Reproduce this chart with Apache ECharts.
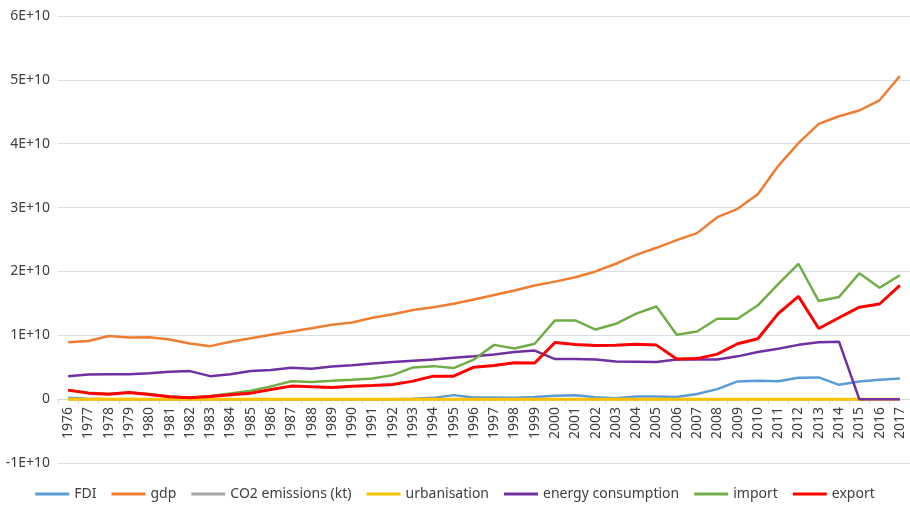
<!DOCTYPE html>
<html>
<head>
<meta charset="utf-8">
<title>chart</title>
<script src="https://cdn.jsdelivr.net/npm/echarts@6/dist/echarts.min.js"></script>
<style>
    html, body { margin: 0; padding: 0; background: #fff; }
    #main { width: 910px; height: 508px; }
</style>
</head>
<body>
<div id="main"></div>
<script>
// values are in billions (1E+9), axis labels show them as E+10
const years = ['1976', '1977', '1978', '1979', '1980', '1981', '1982', '1983', '1984', '1985',
    '1986', '1987', '1988', '1989', '1990', '1991', '1992', '1993', '1994', '1995',
    '1996', '1997', '1998', '1999', '2000', '2001', '2002', '2003', '2004', '2005',
    '2006', '2007', '2008', '2009', '2010', '2011', '2012', '2013', '2014', '2015',
    '2016', '2017'];

const fdi = [0.2, 0.05, 0, 0, 0, 0, 0, 0, 0, 0,
    0, 0, 0, 0, 0, 0, 0, 0.05, 0.2, 0.63,
    0.25, 0.25, 0.2, 0.35, 0.55, 0.6, 0.3, 0.15, 0.4, 0.4,
    0.35, 0.8, 1.57, 2.77, 2.87, 2.8, 3.34, 3.4, 2.24, 2.77,
    3.03, 3.24];

const gdp = [8.9, 9.1, 9.9, 9.65, 9.7, 9.35, 8.7, 8.3, 9.0, 9.55,
    10.1, 10.6, 11.1, 11.65, 12.0, 12.75, 13.3, 13.95, 14.4, 14.95,
    15.6, 16.3, 17.0, 17.8, 18.4, 19.1, 20.0, 21.2, 22.6, 23.7,
    24.9, 26.0, 28.5, 29.8, 32.1, 36.5, 40.1, 43.1, 44.3, 45.2,
    46.8, 50.6];

const co2 = [0, 0, 0, 0, 0, 0, 0, 0, 0, 0,
    0, 0, 0, 0, 0, 0, 0, 0, 0, 0,
    0, 0, 0, 0, 0, 0, 0, 0, 0, 0,
    0, 0, 0, 0, 0, 0, 0, 0, 0, 0,
    0, 0];

const urbanisation = [0, 0, 0, 0, 0, 0, 0, 0, 0, 0,
    0, 0, 0, 0, 0, 0, 0, 0, 0, 0,
    0, 0, 0, 0, 0, 0, 0, 0, 0, 0,
    0, 0, 0, 0, 0, 0, 0, 0, 0, 0,
    0, 0];

const energy = [3.6, 3.87, 3.9, 3.9, 4.07, 4.28, 4.39, 3.6, 3.9, 4.39,
    4.55, 4.9, 4.75, 5.1, 5.3, 5.6, 5.8, 6.0, 6.2, 6.5,
    6.7, 7.0, 7.37, 7.6, 6.27, 6.27, 6.2, 5.9, 5.85, 5.8,
    6.2, 6.2, 6.2, 6.7, 7.37, 7.9, 8.5, 8.9, 9.0, 0,
    0, 0];

const importVals = [1.4, 1.0, 0.85, 1.05, 0.8, 0.4, 0.2, 0.5, 0.9, 1.3,
    2.0, 2.8, 2.7, 2.87, 3.05, 3.24, 3.76, 4.97, 5.17, 4.86,
    6.2, 8.5, 7.94, 8.67, 12.33, 12.33, 10.9, 11.8, 13.4, 14.5,
    10.1, 10.6, 12.6, 12.6, 14.7, 18.0, 21.2, 15.36, 16.0, 19.7,
    17.45, 19.4];

const exportVals = [1.41, 0.94, 0.78, 1.05, 0.73, 0.37, 0.2, 0.42, 0.68, 0.94,
    1.5, 2.04, 1.93, 1.83, 2.0, 2.14, 2.3, 2.82, 3.6, 3.6,
    5.0, 5.28, 5.7, 5.65, 8.88, 8.57, 8.4, 8.45, 8.6, 8.46,
    6.3, 6.35, 7.05, 8.67, 9.45, 13.4, 16.1, 11.07, 12.75, 14.4,
    14.9, 17.8];

const yTicks = ['-1E+10', '0', '1E+10', '2E+10', '3E+10', '4E+10', '5E+10', '6E+10'];

function lineSeries(name, data, color, width) {
    return {
        name: name,
        type: 'line',
        data: data,
        symbol: 'none',
        smooth: false,
        lineStyle: { color: color, width: width },
        itemStyle: { color: color }
    };
}

const chart = echarts.init(document.getElementById('main'));
const option = {
    animation: false,
    textStyle: { fontFamily: 'Noto Sans' },
    grid: { left: 58, right: -4, top: 16, bottom: 45 },
    legend: {
        bottom: 2,
        left: 'center',
        icon: 'rect',
        itemWidth: 34,
        itemHeight: 3,
        itemGap: 15,
        textStyle: { fontFamily: 'Noto Sans', fontSize: 14, color: '#404040' },
        data: ['FDI', 'gdp', 'CO2 emissions (kt)', 'urbanisation', 'energy consumption', 'import', 'export']
    },
    xAxis: {
        type: 'category',
        data: years,
        boundaryGap: true,
        position: 'bottom',
        // the axis sits on the 0 line: one step (64px) above the grid bottom
        offset: -64,
        axisLine: { onZero: false, lineStyle: { color: '#d9d9d9', width: 1 } },
        axisTick: { show: true, length: 5, lineStyle: { color: '#d9d9d9' } },
        axisLabel: { rotate: 90, interval: 0, fontSize: 14, color: '#404040', margin: 8 }
    },
    yAxis: {
        type: 'value',
        min: -10,
        max: 60,
        interval: 10,
        axisLine: { show: false },
        axisTick: { show: false },
        splitLine: { lineStyle: { color: '#d9dde5', width: 1 } },
        axisLabel: {
            fontSize: 14,
            color: '#404040',
            margin: 8,
            formatter: function (v) {
                return yTicks[Math.round(v / 10) + 1];
            }
        }
    },
    series: [
        lineSeries('FDI', fdi, '#5b9bd5', 2.5),
        lineSeries('gdp', gdp, '#ed7d31', 2.5),
        lineSeries('CO2 emissions (kt)', co2, '#a5a5a5', 2.5),
        lineSeries('urbanisation', urbanisation, '#ffc000', 3),
        lineSeries('energy consumption', energy, '#7030a0', 2.5),
        lineSeries('import', importVals, '#70ad47', 2.5),
        lineSeries('export', exportVals, '#ff0000', 3)
    ]
};
chart.setOption(option);
</script>
</body>
</html>
